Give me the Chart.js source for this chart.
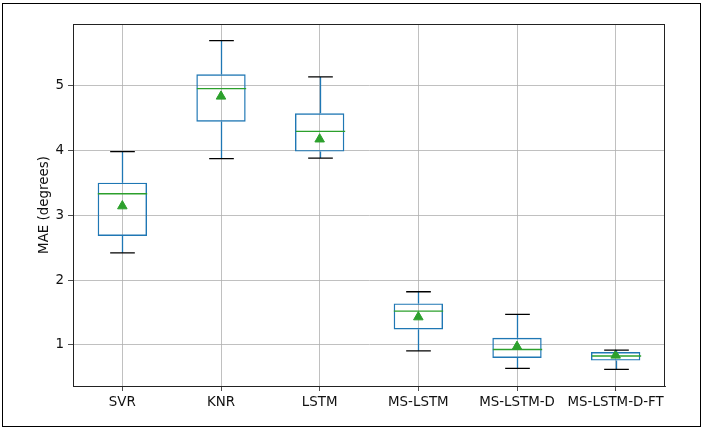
<!DOCTYPE html>
<html>
<head>
<meta charset="utf-8">
<script src="https://cdn.jsdelivr.net/npm/chart.js@4"></script>
<style>
  html, body { margin: 0; padding: 0; background: #fff; }
  #wrap { position: relative; width: 704px; height: 433px; }
  #frame { position: absolute; left: 2px; top: 3px; width: 697px; height: 422px; border: 1px solid #000; pointer-events: none; }
</style>
</head>
<body>
<div id="wrap">
  <canvas id="maeChart" width="704" height="433"></canvas>
  <div id="frame"></div>
</div>
<script>
// box plot stats per model
const models = ['SVR', 'KNR', 'LSTM', 'MS-LSTM', 'MS-LSTM-D', 'MS-LSTM-D-FT'];
const whiskerLow = [2.42, 3.87, 3.88, 0.91, 0.64, 0.625];
const q1 = [2.68, 4.44, 3.98, 1.24, 0.80, 0.76];
const median = [3.33, 4.95, 4.29, 1.52, 0.93, 0.83];
const q3 = [3.50, 5.17, 4.57, 1.64, 1.11, 0.89];
const whiskerHigh = [3.98, 5.69, 5.13, 1.82, 1.47, 0.92];
const means = [3.14, 4.83, 4.17, 1.43, 0.975, 0.84];
const yTicks = [1, 2, 3, 4, 5];

const BLUE = '#1f77b4', GREEN = '#2ca02c';
const FONT = { family: 'DejaVu Sans', size: 13.4 };

// whiskers, caps, medians and the axes frame, all placed via the chart scales
const boxExtras = {
  id: 'boxExtras',
  afterDatasetsDraw(chart) {
    const { ctx, scales: { x, y }, chartArea } = chart;
    const step = x.getPixelForValue(1) - x.getPixelForValue(0);
    ctx.save();
    models.forEach((m, i) => {
      const cx = Math.round(x.getPixelForValue(i)) + 0.5;
      const half = step * 0.25, capHalf = step * 0.125;
      // whiskers
      ctx.strokeStyle = BLUE; ctx.lineWidth = 1.3;
      ctx.beginPath();
      ctx.moveTo(cx, y.getPixelForValue(q3[i])); ctx.lineTo(cx, y.getPixelForValue(whiskerHigh[i]));
      ctx.moveTo(cx, y.getPixelForValue(q1[i])); ctx.lineTo(cx, y.getPixelForValue(whiskerLow[i]));
      ctx.stroke();
      // caps
      ctx.strokeStyle = '#000';
      ctx.beginPath();
      [whiskerHigh[i], whiskerLow[i]].forEach(v => {
        const py = y.getPixelForValue(v);
        ctx.moveTo(cx - capHalf, py); ctx.lineTo(cx + capHalf, py);
      });
      ctx.stroke();
      // median
      ctx.strokeStyle = GREEN;
      ctx.beginPath();
      const my = y.getPixelForValue(median[i]);
      ctx.moveTo(cx - half, my); ctx.lineTo(cx + half, my);
      ctx.stroke();
    });
    ctx.strokeStyle = '#222'; ctx.lineWidth = 1;
    ctx.strokeRect(chartArea.left + 0.5, chartArea.top + 0.5, chartArea.right - chartArea.left - 1, chartArea.bottom - chartArea.top);
    ctx.restore();
  }
};

const ctx = document.getElementById('maeChart').getContext('2d');
new Chart(ctx, {
  type: 'bar',
  data: {
    labels: models,
    datasets: [
      {
        type: 'bar',
        data: models.map((m, i) => [q1[i], q3[i]]),
        backgroundColor: 'rgba(0,0,0,0)',
        borderColor: BLUE,
        borderWidth: 1.4,
        borderSkipped: false,
        barPercentage: 0.5,
        categoryPercentage: 1.0,
        order: 2
      },
      {
        type: 'line',
        data: means,
        showLine: false,
        pointStyle: 'triangle',
        pointRadius: 5.5,
        backgroundColor: GREEN,
        borderColor: GREEN,
        borderWidth: 1,
        order: 1
      }
    ]
  },
  options: {
    responsive: false,
    animation: false,
    layout: { padding: { left: 36, right: 39, top: 24, bottom: 0 } },
    plugins: { legend: { display: false }, tooltip: { enabled: false } },
    scales: {
      x: {
        offset: true,
        grid: { offset: false, color: '#b0b0b0', lineWidth: 0.8, tickColor: '#222', tickLength: 5 },
        border: { color: '#222', width: 1 },
        ticks: { color: '#111', font: FONT, padding: 3, maxRotation: 0, autoSkip: false },
        afterFit(s) { s.height = 47; }
      },
      y: {
        min: 0.368,
        max: 5.945,
        afterBuildTicks(s) { s.ticks = yTicks.map(v => ({ value: v })); },
        grid: { color: '#b0b0b0', lineWidth: 0.8, tickColor: '#222', tickLength: 5 },
        border: { color: '#222', width: 1 },
        ticks: { color: '#111', font: FONT, padding: 4 },
        title: { display: true, text: 'MAE (degrees)', color: '#111', font: FONT, padding: { top: 0, bottom: 0 } },
        afterFit(s) { s.width = 37; }
      }
    }
  },
  plugins: [boxExtras]
});
</script>
</body>
</html>
